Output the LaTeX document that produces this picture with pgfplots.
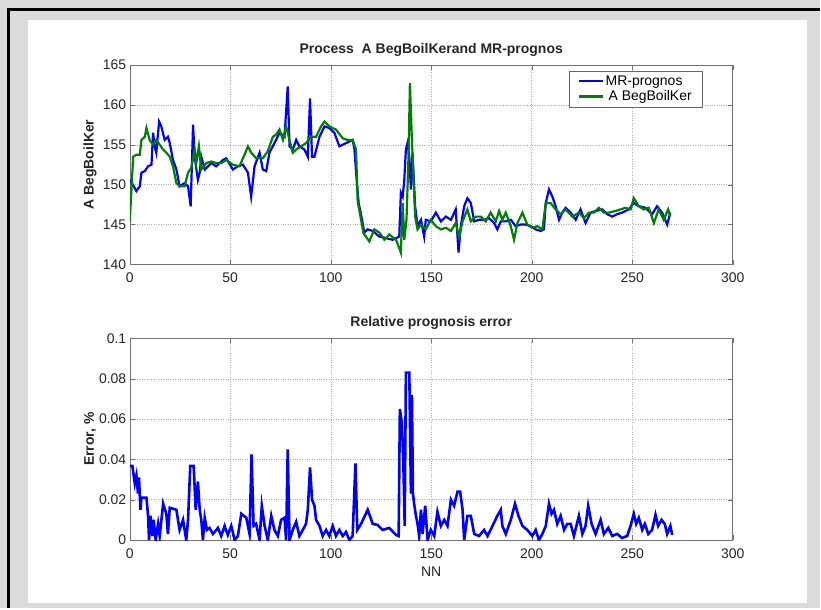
\documentclass[border=0pt]{standalone}
\usepackage{pgfplots}
\pgfplotsset{compat=1.18}
\usepackage{fontspec}
\setmainfont{Liberation Sans}
\definecolor{mgreen}{RGB}{0,128,0}
\definecolor{mblue}{RGB}{0,0,255}
\pgfplotsset{
  mstyle/.style={
    scale only axis, width=604pt,
    xmin=0, xmax=300, xtick={0,50,...,300},
    grid=major, major grid style={dotted, black!30},
    tick align=inside, xtick pos=both, ytick pos=both,
    major tick length=5pt,
    axis line style={black!55}, tick style={black!55},
    ticklabel style={font=\fontsize{14}{16}\selectfont, text=black!85},
    xticklabel style={yshift=-5pt},
    /pgf/number format/assume math mode=true,
    ylabel style={font=\bfseries\fontsize{14}{16}\selectfont, text=black!85,
      at={(axis description cs:-0.066,0.5)}, anchor=center},
    title style={font=\bfseries\fontsize{14}{16}\selectfont, text=black!85,
      at={(axis description cs:0.5,1)}, anchor=center, yshift=9pt},
  }
}
\begin{document}
\begin{tikzpicture}
\fill[black!14] (0pt,0pt) rectangle (821pt,609pt);
\fill[white] (28pt,5pt) rectangle (808pt,589pt);
\draw[black, line width=3pt] (9pt,0pt) -- (9pt,599pt) -- (821pt,599pt);

% top panel: process and prognosis
\begin{axis}[mstyle, at={(130pt,344pt)}, anchor=south west, height=200pt,
  ymin=140, ymax=165, ytick={140,145,...,165},
  title={Process\ \ A BegBoilKerand MR-prognos},
  ylabel={A BegBoilKer},
  legend style={at={(0.949,0.97)}, anchor=north east, draw=black!60,
    font=\fontsize{14}{16}\selectfont, inner xsep=8pt, inner ysep=2.5pt, row sep=0pt},
  legend cell align=left,
  legend image code/.code={\draw[#1] (0pt,0pt) -- (24pt,0pt);},
]
\addplot[mblue, line width=2.2pt] coordinates {
(0,150.6) (1.5,150.0) (3.3,149.2) (5.0,149.8) (5.8,151.5) (7.5,151.7) (9.1,152.3)
(10.8,152.5) (11.6,156.5) (12.4,154.8) (13.2,154.0) (14.6,157.9) (15.7,157.3)
(17.4,155.6) (19.0,156.0) (19.9,155.2) (21.5,153.1) (23.2,151.9) (24.8,149.8)
(27.3,150.2) (29.0,149.8) (30.3,147.3) (31.5,157.5) (32.3,153.5) (33.9,150.6)
(34.8,151.5) (35.6,153.5) (37.3,151.9) (38.9,152.3) (40.6,152.7) (43.0,152.3)
(46.4,153.1) (48.0,153.3) (51.3,151.9) (53.8,152.3) (56.3,152.5) (58.8,151.5)
(60.4,148.5) (62.1,152.3) (64.6,154.0) (66.2,151.9) (67.9,151.7) (69.5,154.0)
(72.8,155.6) (74.5,156.5) (77.0,156.0) (78.6,162.3) (79.5,154.8) (81.1,154.4)
(82.8,155.6) (84.4,154.8) (86.9,154.4) (88.6,153.5) (89.7,160.8) (90.7,153.5)
(91.9,153.5) (94.4,156.0) (96.9,157.3) (99.3,157.1) (101.8,156.5) (104.3,154.8)
(107.6,155.2) (110.9,155.6) (111.8,154.4) (112.9,150.6) (113.9,147.7) (115.6,145.6)
(116.7,144.0) (118.4,144.4) (120.9,144.2) (124.2,143.5) (127.5,143.3) (130.8,143.1)
(134.1,143.5) (134.9,149.0) (135.8,148.5) (136.6,150.6) (137.4,154.4) (138.2,155.2)
(139.1,153.5) (139.9,149.4) (140.7,154.0) (142.0,147.3) (143.2,144.8) (144.9,145.6)
(146.5,143.5) (147.3,145.6) (149.8,145.4) (152.3,146.5) (154.8,145.4) (157.3,146.0)
(159.8,145.6) (162.2,146.9) (163.6,141.5) (164.7,144.8) (166.4,147.3) (168.0,148.3)
(169.7,147.7) (171.4,145.4) (173.8,145.6) (176.3,145.6) (178.8,145.8) (181.3,145.2)
(182.9,144.4) (184.6,145.4) (187.1,145.4) (189.6,145.6) (192.0,144.8) (194.5,145.0)
(197.0,145.0) (199.5,144.8) (202.0,144.4) (204.5,144.2) (206.1,144.4) (207.0,147.7)
(208.6,149.4) (210.3,148.5) (211.9,147.3) (213.6,145.6) (215.2,146.5) (216.9,147.1)
(219.4,146.5) (221.9,145.6) (224.3,146.9) (226.8,145.2) (229.3,146.5) (231.8,146.7)
(235.1,146.9) (237.6,146.3) (240.1,146.0) (242.5,146.3) (245.0,146.5) (248.3,146.9)
(250.8,147.7) (253.3,147.3) (256.6,147.1) (259.9,146.3) (262.4,147.3) (264.9,146.5)
(267.4,145.0) (269.0,146.5)
};
\addlegendentry{MR-prognos}
\addplot[mgreen, line width=2.2pt] coordinates {
(0,145.4) (1.7,153.5) (3.3,153.75) (5.0,153.75) (5.8,155.6) (7.5,156.0) (8.3,157.1)
(9.9,155.6) (11.6,155.0) (13.2,155.6) (14.9,155.0) (16.6,154.4) (18.2,154.0)
(19.9,153.5) (21.5,152.3) (23.2,150.2) (24.8,149.8) (27.3,149.8) (29.0,151.5)
(30.6,152.1) (32.3,154.4) (33.1,152.7) (34.4,154.8) (35.6,151.9) (38.1,152.7)
(40.6,152.9) (43.0,152.7) (45.5,152.7) (48.0,153.1) (51.3,152.5) (54.6,152.3)
(57.1,153.75) (58.8,154.8) (60.4,154.0) (62.9,153.3) (66.2,153.3) (68.7,154.2)
(71.2,156.0) (72.8,156.25) (74.5,156.9) (76.2,155.6) (77.8,157.3) (79.5,155.6)
(81.1,154.0) (82.8,154.4) (85.3,154.8) (87.7,155.2) (90.2,156.0) (92.7,156.0)
(95.2,157.3) (96.9,157.9) (99.3,157.3) (102.6,156.9) (106.0,155.8) (108.4,155.6)
(110.9,155.6) (112.6,154.4) (113.4,147.9) (115.1,145.6) (116.2,144.0) (117.5,143.5)
(119.2,142.9) (121.7,144.4) (124.2,144.0) (126.7,143.1) (129.1,143.75) (132.5,143.1)
(134.9,141.5) (135.8,147.7) (136.6,143.1) (137.7,145.6) (138.7,153.5) (139.4,162.7)
(140.4,155.6) (142.0,146.0) (143.2,144.4) (144.9,145.0) (147.3,144.4) (149.8,145.6)
(152.3,144.8) (154.8,144.4) (157.3,144.6) (159.8,144.2) (162.2,145.2) (163.9,143.5)
(165.6,145.4) (168.0,146.9) (169.7,145.4) (172.2,146.0) (174.7,146.0) (177.1,145.4)
(179.6,146.5) (182.1,145.4) (183.8,146.7) (185.4,145.6) (187.1,146.5) (189.6,144.8)
(191.2,143.1) (192.9,145.2) (195.4,146.5) (197.8,145.0) (200.3,144.6) (202.8,144.8)
(205.3,144.4) (207.0,147.7) (209.4,147.7) (211.9,146.9) (214.4,146.3) (216.9,146.9)
(220.2,146.0) (223.5,146.5) (226.0,145.8) (228.5,146.5) (231.0,146.5) (233.4,147.1)
(235.9,146.5) (238.4,146.5) (241.7,146.7) (244.2,146.9) (246.7,147.1) (249.2,146.9)
(250.8,148.3) (253.3,147.3) (255.8,146.9) (258.3,147.1) (260.8,145.2) (263.2,146.9)
(265.7,145.6) (267.9,146.9) (269.0,146.0)
};
\addlegendentry{\hspace{3pt}A BegBoilKer}
\end{axis}

% bottom panel: relative error
\begin{axis}[mstyle, at={(130pt,68pt)}, anchor=south west, height=202pt,
  ymin=0, ymax=0.1, ytick={0,0.02,0.04,0.06,0.08,0.1},
  yticklabels={0,0.02,0.04,0.06,0.08,0.1},
  title={Relative prognosis error},
  ylabel={Error, \%},
  xlabel={NN},
  xlabel style={font=\fontsize{14}{16}\selectfont, text=black!85,
    at={(axis description cs:0.5,-0.158)}, anchor=center},
]
\addplot[mblue, line width=2.6pt] coordinates {
(0,0.0367) (1.3,0.0367) (2.5,0.028) (3.3,0.032) (4.1,0.023) (4.6,0.031) (5.3,0.015)
(5.8,0.021) (8.3,0.021) (9.1,0.012) (9.6,0.0) (10.3,0.012) (11.3,0.002) (11.9,0.01)
(12.9,0) (14.1,0.008) (14.9,0.002) (16.6,0.018) (18.2,0.013) (19.0,0.003) (19.9,0.016)
(23.2,0.015) (24.8,0.005) (26.5,0.01) (28.1,0) (29.0,0.01) (30.1,0.0367) (31.8,0.0367)
(32.8,0.015) (33.9,0.029) (34.8,0.015) (35.6,0.01) (36.4,0) (37.3,0.011) (38.4,0.005)
(39.7,0.006) (41.4,0.003) (43.9,0.006) (45.5,0.002) (47.2,0.007) (48.8,0.0025)
(50.5,0.007) (52.2,0) (53.8,0.002) (55.5,0.013) (58.0,0.011) (59.6,0.003) (60.6,0.0425)
(61.6,0.007) (62.9,0.008) (64.6,0) (65.7,0.017) (67.1,0.007) (68.7,0) (70.4,0.012)
(72.0,0.005) (73.7,0.002) (75.3,0.01) (77.0,0.011) (77.8,0) (78.6,0.045) (79.5,0)
(81.1,0.005) (82.8,0.009) (84.4,0.002) (86.1,0.005) (87.7,0.008) (88.6,0.015)
(89.7,0.036) (90.7,0.02) (91.9,0.017) (92.7,0.01) (94.4,0.007) (96.0,0.002)
(97.7,0.005) (99.3,0.002) (101.0,0.007) (102.6,0.002) (104.3,0.005) (106.0,0.002)
(107.6,0.004) (109.3,0) (110.9,0.002) (112.3,0.038) (113.2,0.005) (115.1,0.008)
(118.4,0.015) (120.9,0.008) (123.3,0.0075) (125.8,0.005) (129.1,0.006) (132.5,0.0025)
(133.8,0.002) (134.4,0.065) (135.4,0.058) (136.1,0.04) (136.8,0.007) (137.4,0.083)
(139.1,0.083) (139.9,0.023) (140.4,0.072) (140.9,0.023) (141.5,0.018) (142.4,0.012)
(143.2,0.008) (144.0,0.002) (144.9,0.015) (145.7,0.003) (147.0,0.017) (148.2,0)
(149.8,0.005) (151.5,0.002) (153.1,0.014) (154.8,0.007) (156.5,0.01) (158.1,0.007)
(159.8,0.02) (161.4,0.017) (163.1,0.024) (164.4,0.024) (165.6,0.015) (166.4,0)
(168.0,0.012) (169.7,0.012) (171.4,0.003) (173.8,0.002) (176.3,0.005) (178.0,0.002)
(180.5,0.007) (182.9,0.012) (184.6,0.015) (185.4,0.007) (187.1,0.003) (189.6,0.01)
(191.7,0.018) (193.4,0.012) (195.4,0.007) (197.8,0.005) (200.3,0.002) (202.0,0.005)
(203.6,0) (205.3,0.003) (207.0,0.007) (208.6,0.018) (209.9,0.013) (211.1,0.015)
(212.7,0.008) (214.4,0.012) (216.1,0.005) (217.7,0.008) (219.4,0.008) (221.0,0.002)
(223.5,0.012) (225.2,0.003) (226.8,0.007) (228.1,0.017) (229.8,0.008) (231.8,0.003)
(234.3,0.01) (235.9,0.003) (238.1,0.006) (240.1,0.002) (242.5,0.003) (245.0,0.001)
(247.5,0.002) (249.2,0.007) (250.8,0.013) (252.0,0.008) (253.3,0.011) (255.0,0.005)
(256.3,0.008) (258.0,0.003) (259.9,0.005) (261.6,0.0125) (262.9,0.007) (264.6,0.01)
(266.2,0.008) (267.4,0.003) (269.0,0.007) (269.9,0.0025)
};
\end{axis}
\end{tikzpicture}
\end{document}
